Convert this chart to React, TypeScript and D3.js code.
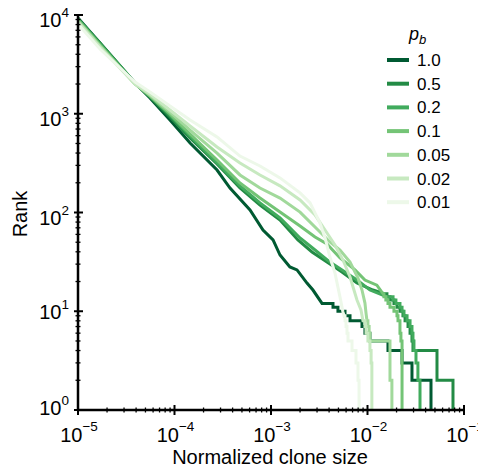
import React from "react";
import * as d3 from "d3";

// Legend labels (p_b values), darkest first
const pbLabels = ["1.0", "0.5", "0.2", "0.1", "0.05", "0.02", "0.01"];

// Largest clone sizes for ranks 1..n (step tail), then smooth body (size, rank)
const tail10 = [4.55e-2, 2.89e-2, 2.28e-2, 1.63e-2, 1.06e-2, 9.41e-3, 8.77e-3, 6.59e-3, 5.85e-3, 4.94e-3, 4.39e-3, 3.38e-3];
const bodySize10 = [2.72e-3, 2.36e-3, 1.86e-3, 1.57e-3, 1.24e-3, 1.05e-3, 8.26e-4, 6.06e-4, 3.76e-4, 2.76e-4, 1.45e-4, 8.98e-5, 5.57e-5, 3.9e-5, 1.69e-5, 1e-5];
const bodyRank10 = [16.4, 19.3, 26.2, 28.1, 37.1, 52.7, 66.5, 106, 177, 269, 506, 864, 1443, 2048, 5206, 9330];

const tail05 = [7.69e-2, 5.25e-2, 5.25e-2, 2.96e-2, 2.89e-2, 2.76e-2, 2.63e-2, 2.45e-2, 2.33e-2, 2.17e-2, 2.02e-2, 1.88e-2, 1.71e-2, 1.59e-2, 1.52e-2];
const bodySize05 = [1.14e-2, 7.78e-3, 5.44e-3, 3.8e-3, 2.66e-3, 1.9e-3, 1.24e-3, 7.69e-4, 4.77e-4, 2.76e-4, 1.45e-4, 8.98e-5, 5.57e-5, 3.9e-5, 1.69e-5, 1e-5];
const bodyRank05 = [16.4, 19.3, 25.0, 31.5, 39.8, 52.7, 84.0, 119, 177, 310, 568, 927, 1477, 2048, 5206, 9110];

const tail02 = [3.5e-2, 3.33e-2, 3.18e-2, 3.03e-2, 2.96e-2, 2.89e-2, 2.76e-2, 2.57e-2, 2.39e-2, 2.28e-2, 2.17e-2, 1.97e-2, 1.84e-2, 1.75e-2];
const bodySize02 = [1.63e-2, 1.06e-2, 7.78e-3, 5.85e-3, 4.08e-3, 2.86e-3, 2.0e-3, 1.24e-3, 7.69e-4, 4.77e-4, 2.76e-4, 1.45e-4, 8.98e-5, 5.57e-5, 3.9e-5, 1.69e-5, 1e-5];
const bodyRank02 = [13.9, 16.4, 20.7, 25.0, 31.5, 41.7, 55.2, 88.0, 125, 186, 317, 595, 971, 1512, 2048, 5086, 9110];

const tail01 = [2.28e-2, 2.28e-2, 2.28e-2, 2.28e-2, 2.22e-2, 2.17e-2, 2.17e-2, 2.07e-2, 2.02e-2, 1.88e-2, 1.71e-2, 1.63e-2, 1.55e-2, 1.48e-2, 1.45e-2];
const bodySize01 = [1.25e-2, 9.41e-3, 7.42e-3, 5.19e-3, 3.8e-3, 2.86e-3, 2.0e-3, 1.24e-3, 7.69e-4, 4.77e-4, 2.76e-4, 1.45e-4, 8.98e-5, 5.57e-5, 3.9e-5, 1.69e-5, 1e-5];
const bodyRank01 = [18.4, 20.7, 26.2, 34.6, 48.0, 56.5, 73.0, 101, 140, 199, 340, 624, 994, 1512, 2001, 4968, 8900];

const tail005 = [1.79e-2, 1.71e-2, 1.71e-2, 1.71e-2, 1.06e-2, 1.04e-2, 1.01e-2, 9.88e-3];
const bodySize005 = [9.65e-3, 9.41e-3, 8.77e-3, 7.97e-3, 6.59e-3, 5.19e-3, 4.08e-3, 3.07e-3, 2.0e-3, 1.24e-3, 7.69e-4, 4.77e-4, 2.76e-4, 1.45e-4, 8.98e-5, 5.57e-5, 3.9e-5, 1.69e-5, 1e-5];
const bodyRank005 = [9.6, 12.1, 16.4, 21.7, 31.5, 41.7, 50.3, 66.5, 101, 140, 177, 240, 400, 684, 1041, 1548, 2001, 4854, 8700];

const tail002 = [1.11e-2, 1.11e-2, 1.09e-2, 1.06e-2, 1.01e-2, 9.65e-3, 9.41e-3, 8.98e-3];
const bodySize002 = [8.56e-3, 7.78e-3, 6.59e-3, 5.57e-3, 4.6e-3, 3.63e-3, 2.86e-3, 2.0e-3, 1.24e-3, 7.69e-4, 4.77e-4, 2.76e-4, 1.45e-4, 8.98e-5, 5.57e-5, 3.9e-5, 1.69e-5, 1e-5];
const bodyRank002 = [10.3, 13.0, 22.2, 33.0, 46.9, 66.5, 94.3, 134, 186, 240, 317, 461, 751, 1091, 1585, 2001, 4742, 8495];

const tail001 = [8.17e-3, 7.97e-3, 7.6e-3, 6.91e-3, 6.28e-3, 6.13e-3, 5.99e-3, 5.85e-3, 5.71e-3];
const bodySize001 = [5.57e-3, 5.19e-3, 4.6e-3, 4.08e-3, 3.63e-3, 3.22e-3, 2.54e-3, 2.0e-3, 1.24e-3, 7.69e-4, 4.77e-4, 2.76e-4, 1.45e-4, 8.98e-5, 5.57e-5, 3.9e-5, 1.69e-5, 1e-5];
const bodyRank001 = [9.8, 13.9, 24.4, 35.4, 55.2, 78.3, 125, 158, 224, 296, 373, 582, 864, 1198, 1661, 2097, 4526, 8110];

const xTickExps = [-5, -4, -3, -2, -1];
const yTickExps = [0, 1, 2, 3, 4];

const seriesTails = [tail10, tail05, tail02, tail01, tail005, tail002, tail001];
const seriesBodySizes = [bodySize10, bodySize05, bodySize02, bodySize01, bodySize005, bodySize002, bodySize001];
const seriesBodyRanks = [bodyRank10, bodyRank05, bodyRank02, bodyRank01, bodyRank005, bodyRank002, bodyRank001];

const colors = d3.schemeGreens[7].slice().reverse();

function buildPoints(tail: number[], bs: number[], br: number[]): [number, number][] {
  const pts: [number, number][] = [];
  tail.forEach((s, i) => {
    if (i > 0) pts.push([tail[i - 1], i + 1]);
    pts.push([s, i + 1]);
  });
  bs.forEach((s, i) => pts.push([s, br[i]]));
  return pts;
}

const W = 478;
const H = 472;
const FONT = "'Liberation Sans', Arial, Helvetica, sans-serif";

export default function App() {
  const x = d3.scaleLog().domain([1e-5, 1e-1]).range([78, 464]);
  const y = d3.scaleLog().domain([1, 1e4]).range([410, 15]);
  const line = d3
    .line<[number, number]>()
    .x((d) => x(d[0]))
    .y((d) => y(d[1]));

  const xMinor: number[] = [];
  for (let k = -5; k < -1; k++) for (let m = 2; m <= 9; m++) xMinor.push(m * Math.pow(10, k));
  const yMinor: number[] = [];
  for (let k = 0; k < 4; k++) for (let m = 2; m <= 9; m++) yMinor.push(m * Math.pow(10, k));

  const yLabelDy: Record<number, number> = { 0: 5, 1: 8, 2: 12, 3: 12, 4: 12 };

  return (
    <svg
      width={W}
      height={H}
      style={{ position: "absolute", left: 0, top: 0, background: "#fff" }}
      fontFamily={FONT}
    >
      {seriesTails.map((t, i) => (
        <path
          key={pbLabels[i]}
          d={line(buildPoints(t, seriesBodySizes[i], seriesBodyRanks[i])) || ""}
          fill="none"
          stroke={colors[i]}
          strokeWidth={3}
        />
      ))}

      {/* axes */}
      <line x1={x(1e-5)} x2={x(1e-5)} y1={y(1e4)} y2={y(1)} stroke="#000" strokeWidth={2.5} />
      <line x1={x(1e-5)} x2={x(1e-1)} y1={y(1)} y2={y(1)} stroke="#000" strokeWidth={2.5} />
      {yMinor.map((v) => (
        <line key={"ym" + v} x1={x(1e-5) - 2.5} x2={x(1e-5) + 2.5} y1={y(v)} y2={y(v)} stroke="#000" strokeWidth={1.3} />
      ))}
      {xMinor.map((v) => (
        <line key={"xm" + v} y1={y(1) - 2.5} y2={y(1) + 2.5} x1={x(v)} x2={x(v)} stroke="#000" strokeWidth={1.3} />
      ))}
      {yTickExps.map((e) => (
        <line key={"yM" + e} x1={x(1e-5) - 4} x2={x(1e-5) + 5} y1={y(Math.pow(10, e))} y2={y(Math.pow(10, e))} stroke="#000" strokeWidth={2} />
      ))}
      {xTickExps.map((e) => (
        <line key={"xM" + e} y1={y(1) - 5} y2={y(1) + 5} x1={x(Math.pow(10, e))} x2={x(Math.pow(10, e))} stroke="#000" strokeWidth={2} />
      ))}

      {yTickExps.map((e) => (
        <text key={"yl" + e} x={69} y={y(Math.pow(10, e)) + yLabelDy[e]} textAnchor="end" fontSize={20} fill="#000">
          10
          <tspan dy={-10} fontSize={13.5}>{String(e)}</tspan>
        </text>
      ))}
      {xTickExps.map((e) => (
        <text key={"xl" + e} x={x(Math.pow(10, e)) + 1} y={442} textAnchor="middle" fontSize={20} fill="#000">
          10
          <tspan dy={-11} fontSize={13.5}>{"\u2212" + String(-e)}</tspan>
        </text>
      ))}

      <text transform="translate(27,214) rotate(-90)" textAnchor="middle" fontSize={20} fill="#000">
        Rank
      </text>
      <text x={270} y={464} textAnchor="middle" fontSize={20} fill="#000">
        Normalized clone size
      </text>

      {/* legend */}
      <text x={409} y={40} fontSize={18} fontStyle="italic" fill="#000">
        p<tspan dy={4} fontSize={13}>b</tspan>
      </text>
      {pbLabels.map((lab, i) => {
        const ly = 60 + i * 23.7;
        return (
          <g key={"lg" + lab}>
            <line x1={387} x2={409} y1={ly} y2={ly} stroke={colors[i]} strokeWidth={4} />
            <text x={417} y={ly + 6} fontSize={17} fill="#000">
              {lab}
            </text>
          </g>
        );
      })}
    </svg>
  );
}
